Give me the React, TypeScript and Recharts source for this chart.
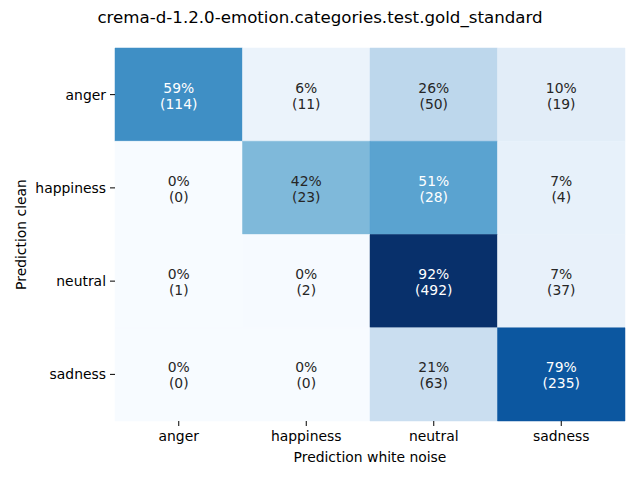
import React from 'react';
import { ScatterChart, Scatter, XAxis, YAxis, ReferenceArea } from 'recharts';

const categories = ['anger', 'happiness', 'neutral', 'sadness'];
const angerRow = [114, 11, 50, 19];
const happinessRow = [0, 23, 28, 4];
const neutralRow = [1, 2, 492, 37];
const sadnessRow = [0, 0, 63, 235];
const countRows = [angerRow, happinessRow, neutralRow, sadnessRow];
const tickPositions = [0.5, 1.5, 2.5, 3.5];

const BLUES = ['#f7fbff', '#deebf7', '#c6dbef', '#9ecae1', '#6baed6', '#4292c6', '#2171b5', '#08519c', '#08306b'];

const hexToRgb = (h: string) => [1, 3, 5].map((i) => parseInt(h.slice(i, i + 2), 16));

function blues(t: number): [number, number, number] {
  const tt = Math.max(0, Math.min(1, t));
  const s = tt * (BLUES.length - 1);
  const i = Math.min(Math.floor(s), BLUES.length - 2);
  const f = s - i;
  const a = hexToRgb(BLUES[i]);
  const b = hexToRgb(BLUES[i + 1]);
  return [0, 1, 2].map((k) => Math.round(a[k] + (b[k] - a[k]) * f)) as [number, number, number];
}

function lum(rgb: number[]) {
  const lin = rgb.map((v) => {
    const c = v / 255;
    return c <= 0.03928 ? c / 12.92 : Math.pow((c + 0.055) / 1.055, 2.4);
  });
  return 0.2126 * lin[0] + 0.7152 * lin[1] + 0.0722 * lin[2];
}

const cells = countRows.flatMap((row, r) => {
  const total = row.reduce((a, b) => a + b, 0);
  return row.map((count, c) => ({ r, c, count, frac: count / total, x: c + 0.5, y: r + 0.5 }));
});
const vmax = Math.max(...cells.map((d) => d.frac));
const vmin = Math.min(...cells.map((d) => d.frac));
const cellData = cells.map((d) => {
  const rgb = blues((d.frac - vmin) / (vmax - vmin));
  return {
    ...d,
    color: `rgb(${rgb[0]},${rgb[1]},${rgb[2]})`,
    textColor: lum(rgb) > 0.408 ? '#262626' : '#ffffff',
    label1: `${Math.round(d.frac * 100)}%`,
    label2: `(${d.count})`,
  };
});

const FONT = '"DejaVu Sans", sans-serif';

const CellLabel = (props: any) => {
  const { cx, cy, payload } = props;
  if (cx == null || cy == null) return null;
  return (
    <text textAnchor="middle" fill={payload.textColor} fontSize={13.9} fontFamily={FONT}>
      <tspan x={cx} y={cy - 2}>{payload.label1}</tspan>
      <tspan x={cx} y={cy + 14}>{payload.label2}</tspan>
    </text>
  );
};

const XLabel = (props: any) => {
  const vb = props.viewBox || {};
  return (
    <text x={vb.x + vb.width / 2} y={462} textAnchor="middle" fill="#000" fontSize={13.9} fontFamily={FONT}>
      Prediction white noise
    </text>
  );
};

const YLabel = (props: any) => {
  const vb = props.viewBox || {};
  const cy = vb.y + vb.height / 2;
  const x = 26;
  return (
    <text x={x} y={cy} transform={`rotate(-90, ${x}, ${cy})`} textAnchor="middle" fill="#000" fontSize={13.9} fontFamily={FONT}>
      Prediction clean
    </text>
  );
};

export default function App() {
  return (
    <div style={{ position: 'absolute', left: 0, top: 0, width: 640, height: 480, background: '#fff' }}>
      <div
        style={{
          position: 'absolute',
          left: 0,
          top: 8,
          width: 640,
          textAlign: 'center',
          fontFamily: FONT,
          fontSize: 16.67,
          lineHeight: '20px',
          color: '#000',
        }}
      >
        crema-d-1.2.0-emotion.categories.test.gold_standard
      </div>
      <ScatterChart width={640} height={480} margin={{ top: 48, right: 15, bottom: 0, left: 0 }}>
        <XAxis
          type="number"
          dataKey="x"
          domain={[0, 4]}
          ticks={tickPositions}
          interval={0}
          tickFormatter={(v: number) => categories[Math.floor(v)]}
          axisLine={false}
          tickLine={{ stroke: '#000' }}
          tickSize={5}
          tickMargin={5}
          height={59}
          tick={{ fill: '#000', fontSize: 13.9, fontFamily: FONT }}
          label={<XLabel />}
          allowDataOverflow
        />
        <YAxis
          type="number"
          dataKey="y"
          domain={[0, 4]}
          reversed
          ticks={tickPositions}
          interval={0}
          tickFormatter={(v: number) => categories[Math.floor(v)]}
          axisLine={false}
          tickLine={{ stroke: '#000' }}
          tickSize={5}
          tickMargin={4}
          width={115}
          tick={{ fill: '#000', fontSize: 13.9, fontFamily: FONT }}
          label={<YLabel />}
          allowDataOverflow
        />
        {cellData.map((d) => (
          <ReferenceArea
            key={`${d.r}-${d.c}`}
            x1={d.c}
            x2={d.c + 1}
            y1={d.r}
            y2={d.r + 1}
            fill={d.color}
            fillOpacity={1}
            stroke={d.color}
            strokeWidth={0.5}
            ifOverflow="visible"
          />
        ))}
        <Scatter data={cellData} shape={<CellLabel />} isAnimationActive={false} />
      </ScatterChart>
    </div>
  );
}
